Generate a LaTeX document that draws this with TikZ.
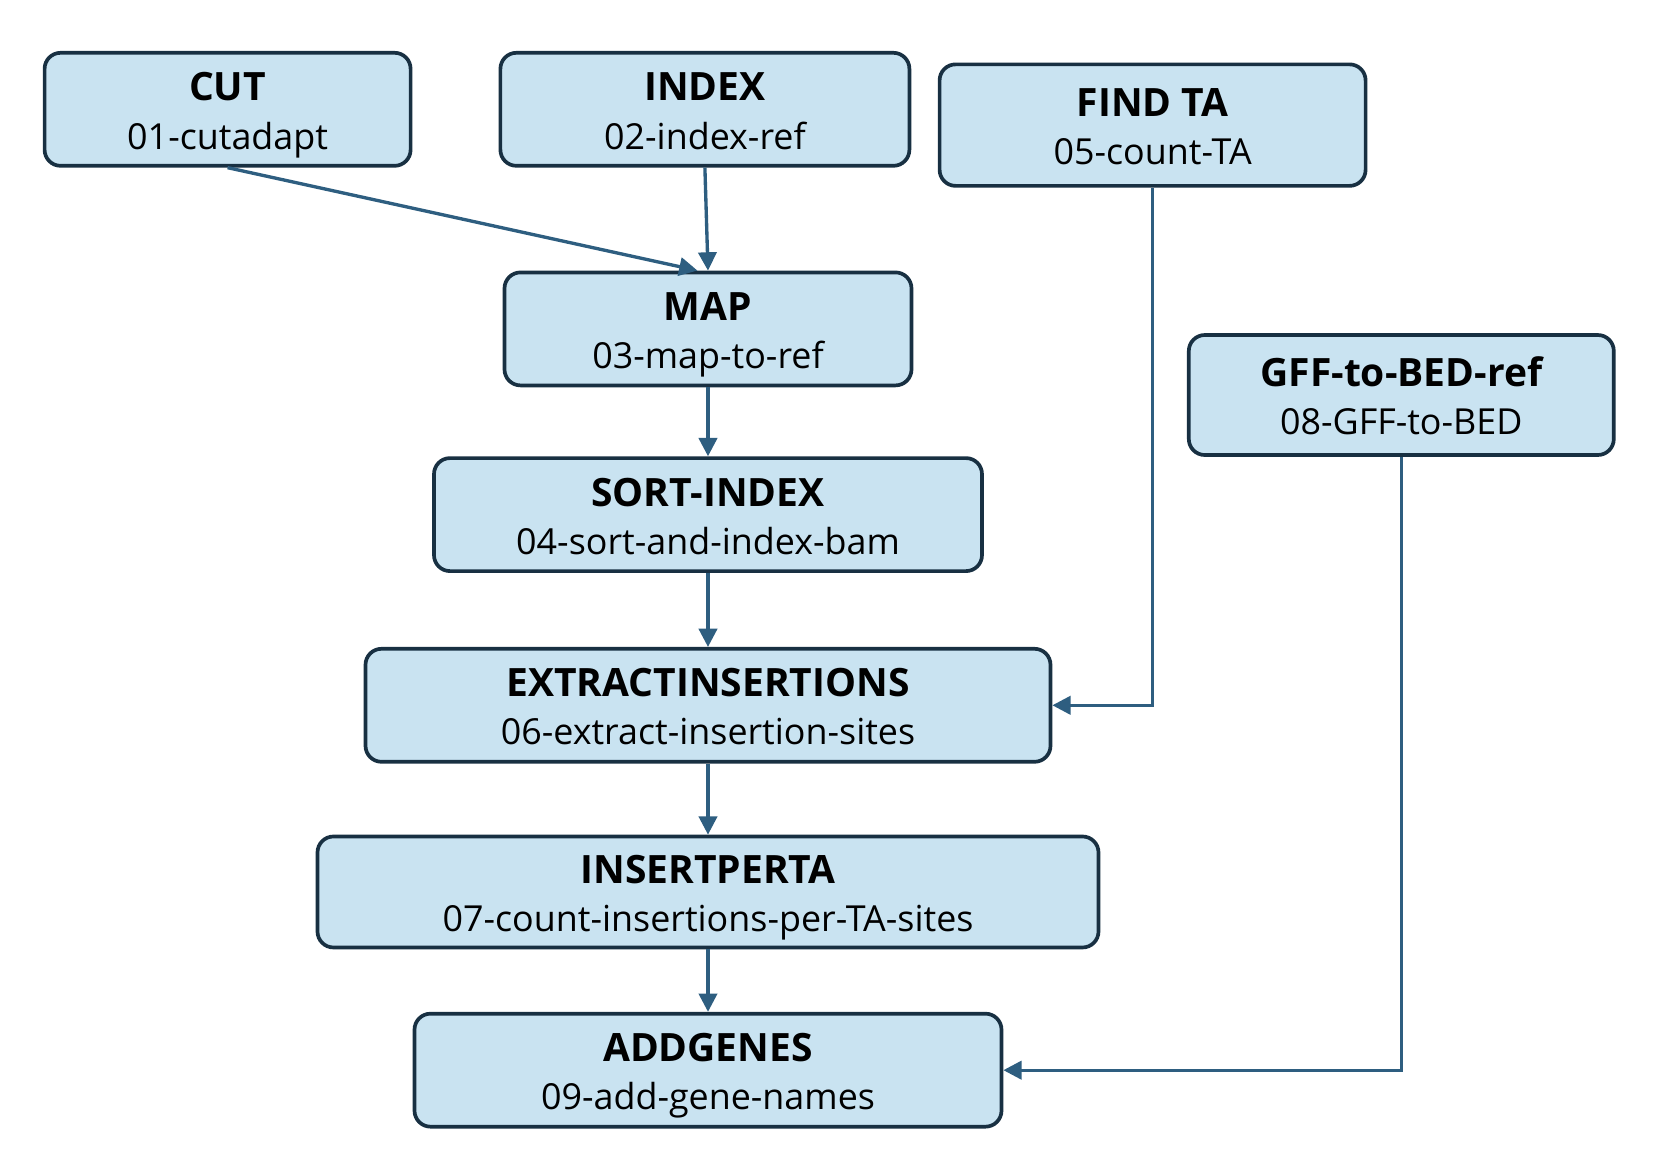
\documentclass[tikz,border=0pt]{standalone}
\usepackage{fontspec}
\setmainfont{Open Sans}
\definecolor{boxfill}{RGB}{201,227,241}
\definecolor{boxline}{RGB}{24,48,66}
\definecolor{flowline}{RGB}{46,94,128}
\usetikzlibrary{positioning,arrows.meta}

\begin{document}
\begin{tikzpicture}[node distance=0.69cm,
  every node/.style={font=\fontsize{10.2}{13.7}\selectfont,align=center},
  stepbox/.style={draw=boxline,fill=boxfill,line width=1.05pt,rounded corners=0.16cm,minimum height=1.13cm,inner sep=0pt},
  flow/.style={flowline,line width=0.95pt,-{Triangle[length=5.2pt,width=5.2pt]}}]
\useasboundingbox (0,0) rectangle (16.56,-11.74);
\newcommand{\steptitle}[1]{{\fontsize{11.1}{13.7}\selectfont\bfseries #1}\rule{0pt}{13pt}}
% top row
\node[stepbox,minimum width=3.66cm] (cut) at (2.276,-1.093) {\steptitle{CUT}\\01-cutadapt\strut};
\node[stepbox,minimum width=4.09cm] (index) at (7.049,-1.093) {\steptitle{INDEX}\\02-index-ref\strut};
\node[stepbox,minimum width=4.26cm,minimum height=1.215cm] (findta) at (11.526,-1.251) {\steptitle{FIND TA}\\05-count-TA\strut};
\node[stepbox,minimum width=4.25cm,minimum height=1.2cm] (gff) at (14.013,-3.95) {\steptitle{GFF-to-BED-ref}\\08-GFF-to-BED\strut};
% main chain
\node[stepbox,minimum width=4.07cm] (map) at (7.08,-3.289) {\steptitle{MAP}\\03-map-to-ref\strut};
\node[stepbox,minimum width=5.48cm,below=of map] (sort) {\steptitle{SORT-INDEX}\\04-sort-and-index-bam\strut};
\node[stepbox,minimum width=6.85cm,below=0.74cm of sort] (extract) {\steptitle{EXTRACTINSERTIONS}\\06-extract-insertion-sites\strut};
\node[stepbox,minimum width=7.81cm,minimum height=1.11cm,below=0.71cm of extract] (insert) {\steptitle{INSERTPERTA}\\07-count-insertions-per-TA-sites\strut};
\node[stepbox,minimum width=5.87cm,below=0.625cm of insert] (addgenes) {\steptitle{ADDGENES}\\09-add-gene-names\strut};
% connectors
\draw[flow] (cut.south) -- ([xshift=-3pt]map.north);
\draw[flow] (index.south) -- (map.north);
\draw[flow] (map) -- (sort);
\draw[flow] (sort) -- (extract);
\draw[flow] (extract) -- (insert);
\draw[flow] (insert) -- (addgenes);
\draw[flow] (findta.south) |- (extract.east);
\draw[flow] (gff.south) |- (addgenes.east);
\end{tikzpicture}
\end{document}
